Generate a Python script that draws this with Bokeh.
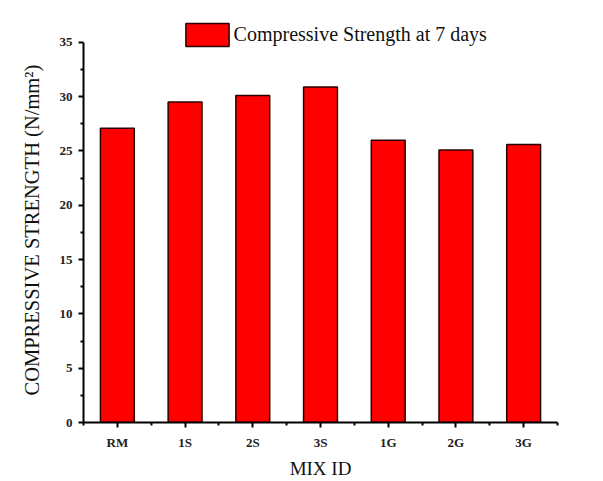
from bokeh.plotting import figure
from bokeh.models import ColumnDataSource, FixedTicker, Range1d, Legend, LegendItem, Title
from bokeh.embed import file_html
from bokeh.resources import INLINE

# ---- data ----
mix_ids = ["RM", "1S", "2S", "3S", "1G", "2G", "3G"]
strength_7d = [27.1, 29.5, 30.1, 30.9, 26.0, 25.1, 25.6]
y_ticks = [0, 5, 10, 15, 20, 25, 30, 35]
y_minor_ticks = [2.5, 7.5, 12.5, 17.5, 22.5, 27.5, 32.5]
series_label = "Compressive Strength at 7 days"
x_title = "MIX ID"
y_title = "COMPRESSIVE STRENGTH (N/mm\u00b2)"

positions = list(range(len(mix_ids)))
x_minor = [i - 0.5 for i in positions] + [positions[-1] + 0.5]

src = ColumnDataSource(dict(x=positions, y=strength_7d, mix=mix_ids))

FONT = "Liberation Serif"

# frame extends a little above 35 so the legend (above the axis top) is not clipped
p = figure(width=603, height=481, output_backend="svg", toolbar_location=None,
           x_range=Range1d(-0.5, len(mix_ids) - 0.5), y_range=Range1d(0, 37.2),
           min_border_left=83, min_border_top=18, min_border_right=46, min_border_bottom=59)
p.background_fill_color = "white"
p.border_fill_color = "white"
p.outline_line_color = None
p.grid.visible = False

r = p.vbar(x="x", top="y", width=0.5, source=src, fill_color="#ff0000",
           line_color="#2a0000", line_width=1.5)

# axes styling
for ax in (p.xaxis[0], p.yaxis[0]):
    ax.axis_line_width = 2
    ax.axis_line_color = "black"
    ax.major_tick_line_width = 2
    ax.minor_tick_line_width = 2
    ax.major_tick_line_color = "black"
    ax.minor_tick_line_color = "black"
    ax.major_tick_out = 5
    ax.major_tick_in = 0
    ax.minor_tick_out = 3
    ax.minor_tick_in = 0
    ax.major_label_text_font = FONT
    ax.major_label_text_font_size = "13px"
    ax.major_label_text_font_style = "bold"
    ax.major_label_text_color = "#222222"
    ax.axis_label_text_font = FONT
    ax.axis_label_text_font_style = "normal"
    ax.axis_label_text_color = "#111111"

p.xaxis.ticker = FixedTicker(ticks=positions, minor_ticks=x_minor)
p.xaxis.major_label_overrides = {i: m for i, m in zip(positions, mix_ids)}
p.xaxis.axis_label = x_title
p.xaxis.axis_label_text_font_size = "19px"
p.xaxis.major_label_standoff = 7
p.xaxis.axis_label_standoff = 5

p.yaxis.ticker = FixedTicker(ticks=y_ticks, minor_ticks=y_minor_ticks)
p.yaxis.bounds = (0, 35)
p.yaxis.major_label_standoff = 6

# y title placed as a side title so it stays centred on the 0-35 axis span
p.add_layout(Title(text=y_title, align="left", offset=27, standoff=28,
                   text_font=FONT, text_font_size="20.5px", text_font_style="normal",
                   text_color="#111111"), "left")

legend = Legend(items=[LegendItem(label=series_label, renderers=[r])],
                location=(96.6, 373), orientation="horizontal",
                glyph_width=54, glyph_height=29, label_standoff=0,
                padding=0, margin=0, spacing=0,
                border_line_color=None, background_fill_alpha=0,
                label_text_font=FONT, label_text_font_size="20px",
                label_text_color="#111111", label_height=29)
p.add_layout(legend, "center")

open("out.html", "w").write(file_html(p, INLINE))
